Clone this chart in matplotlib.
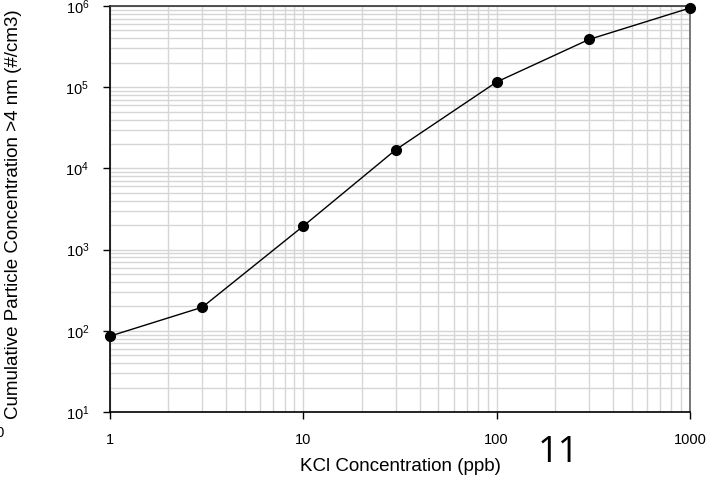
import matplotlib
matplotlib.use("Agg")
import matplotlib.pyplot as plt
from matplotlib.ticker import LogLocator, NullFormatter

plt.rcParams['font.family'] = ['Liberation Sans', 'DejaVu Sans']
plt.rcParams['mathtext.fontset'] = 'custom'
plt.rcParams['mathtext.rm'] = 'Liberation Sans'

kcl_ppb = [1, 3, 10, 30, 100, 300, 1000]
particles = [86, 195, 1950, 16900, 116000, 387000, 945000]
x_ticks = [1, 10, 100, 1000]
x_tick_labels = ['1', '10', '100', '1000']
y_ticks = [1e1, 1e2, 1e3, 1e4, 1e5, 1e6]
y_tick_labels = [r'$\mathregular{10^{%d}}$' % e for e in range(1, 7)]

fig = plt.figure(figsize=(7.08, 4.82), dpi=100)
ax = fig.add_axes([110/708, 1-412/482, 580/708, 406/482])
ax.set_xscale('log')
ax.set_yscale('log')
ax.set_xlim(1, 1000)
ax.set_ylim(10, 1e6)

ax.grid(True, which='both', color='#d6d6d6', linewidth=1.0)
ax.set_axisbelow(True)

ax.plot(kcl_ppb, particles, color='black', linewidth=1.0, marker='o',
        markersize=7, markerfacecolor='black', markeredgecolor='black',
        clip_on=False, zorder=5)

ax.set_xticks(x_ticks)
ax.set_xticklabels(x_tick_labels)
ax.set_yticks(y_ticks)
ax.set_yticklabels(y_tick_labels)
ax.xaxis.set_minor_locator(LogLocator(base=10, subs=range(2, 10)))
ax.yaxis.set_minor_locator(LogLocator(base=10, subs=range(2, 10)))
ax.xaxis.set_minor_formatter(NullFormatter())
ax.yaxis.set_minor_formatter(NullFormatter())
ax.tick_params(which='minor', length=0)
ax.tick_params(which='major', direction='out', length=5, width=1,
               labelsize=10.5, color='black', pad=10)

for s in ['left', 'bottom']:
    ax.spines[s].set_color('black')
    ax.spines[s].set_linewidth(1.2)
ax.spines['top'].set_color('#333333')
ax.spines['right'].set_color('#777777')
ax.spines['top'].set_linewidth(1.2)
ax.spines['right'].set_linewidth(1.4)

ax.set_xlabel('KCl Concentration (ppb)', fontsize=13.5, labelpad=8)
fig.text(14/708, 1-214/482, 'Cumulative Particle Concentration >4 nm (#/cm3)',
         rotation=90, ha='center', va='center', fontsize=13.5)

fig.text(558/708, 1-453/482, '11', fontsize=26, ha='center', va='center',
         family=['Open Sans', 'DejaVu Sans'])
fig.text(5/708, 1-433/482, '10', fontsize=10.5, ha='right', va='center')

fig.savefig('out.png', dpi=100)
